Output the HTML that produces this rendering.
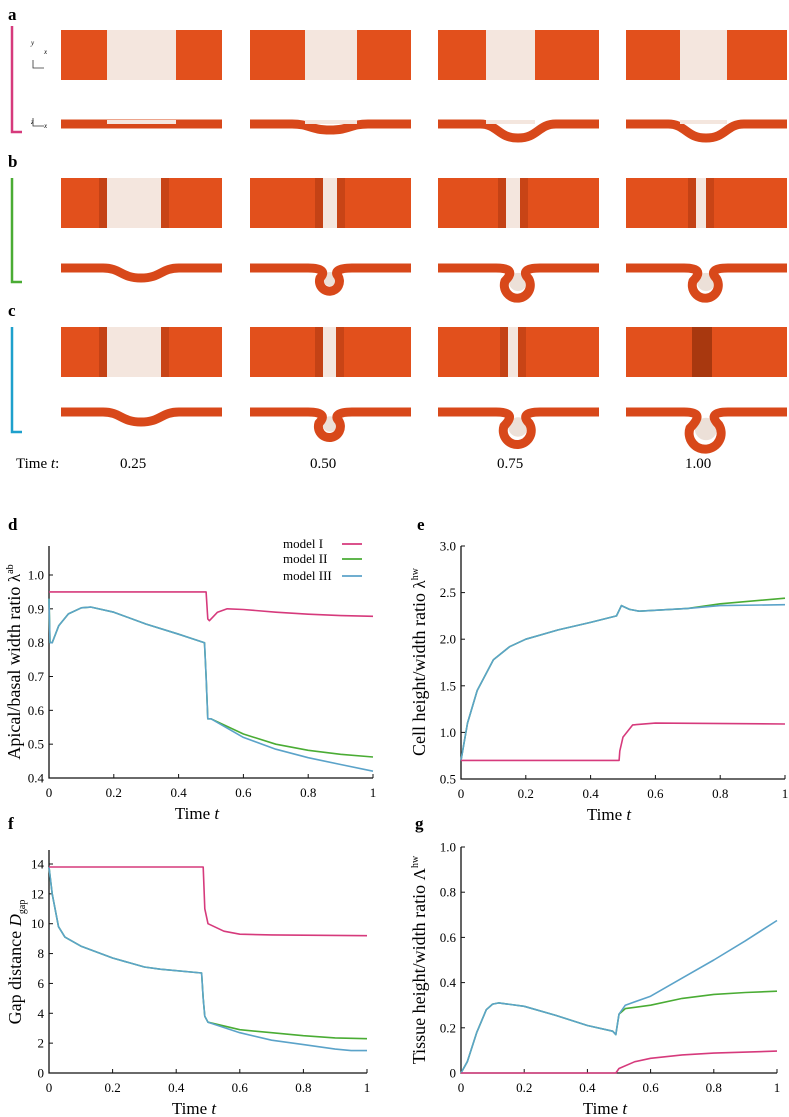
<!DOCTYPE html>
<html><head><meta charset="utf-8">
<style>
html,body{margin:0;padding:0;background:#fff;}
body{width:789px;height:1117px;position:relative;overflow:hidden;font-family:"Liberation Serif",serif;}
svg{position:absolute;left:0;top:0;}
</style></head>
<body>
<svg id="fig" width="789" height="1117" viewBox="0 0 789 1117" font-family="Liberation Serif, serif"></svg>
<script>
// ---- chart data ----
const dI_t=[0,0.485,0.49,0.495,0.52,0.55,0.6,0.7,0.8,0.9,1];
const dI_v=[0.95,0.95,0.87,0.865,0.89,0.9,0.898,0.89,0.884,0.88,0.878];
const dIII_t=[0,0.003,0.01,0.03,0.06,0.1,0.13,0.2,0.3,0.4,0.48,0.485,0.49,0.5,0.6,0.7,0.8,0.9,1];
const dIII_v=[0.93,0.80,0.80,0.85,0.885,0.903,0.905,0.89,0.855,0.825,0.80,0.70,0.575,0.575,0.52,0.485,0.46,0.44,0.42];
const dII_t=[0,0.003,0.01,0.03,0.06,0.1,0.13,0.2,0.3,0.4,0.48,0.485,0.49,0.5,0.6,0.7,0.8,0.9,1];
const dII_v=[0.93,0.80,0.80,0.85,0.885,0.903,0.905,0.89,0.855,0.825,0.80,0.70,0.575,0.575,0.53,0.50,0.482,0.47,0.462];
const eI_t=[0,0.488,0.49,0.5,0.53,0.6,1];
const eI_v=[0.7,0.7,0.8,0.95,1.08,1.1,1.09];
const eIII_t=[0,0.02,0.05,0.1,0.15,0.2,0.3,0.4,0.48,0.495,0.52,0.55,0.7,0.8,1];
const eIII_v=[0.7,1.1,1.45,1.78,1.92,2.0,2.1,2.18,2.25,2.36,2.32,2.3,2.33,2.36,2.37];
const eII_t=[0,0.02,0.05,0.1,0.15,0.2,0.3,0.4,0.48,0.495,0.52,0.55,0.7,0.8,1];
const eII_v=[0.7,1.1,1.45,1.78,1.92,2.0,2.1,2.18,2.25,2.36,2.32,2.3,2.33,2.38,2.44];
const fI_t=[0,0.485,0.49,0.5,0.55,0.6,0.7,1];
const fI_v=[13.8,13.8,11,10,9.5,9.3,9.25,9.2];
const fIII_t=[0,0.01,0.03,0.05,0.1,0.2,0.3,0.35,0.48,0.485,0.49,0.5,0.6,0.7,0.8,0.9,0.95,1];
const fIII_v=[13.8,12,9.8,9.1,8.5,7.7,7.1,6.95,6.7,5,3.8,3.4,2.7,2.2,1.9,1.6,1.5,1.5];
const fII_t=[0,0.01,0.03,0.05,0.1,0.2,0.3,0.35,0.48,0.485,0.49,0.5,0.6,0.7,0.8,0.9,1];
const fII_v=[13.8,12,9.8,9.1,8.5,7.7,7.1,6.95,6.7,5,3.8,3.4,2.9,2.7,2.5,2.35,2.3];
const gI_t=[0,0.49,0.5,0.55,0.6,0.7,0.8,1];
const gI_v=[0,0,0.02,0.05,0.065,0.08,0.088,0.097];
const gIII_t=[0,0.02,0.05,0.08,0.1,0.12,0.2,0.3,0.4,0.48,0.49,0.5,0.52,0.6,0.7,0.8,0.9,1];
const gIII_v=[0,0.05,0.18,0.28,0.305,0.31,0.295,0.255,0.21,0.185,0.17,0.26,0.30,0.34,0.42,0.5,0.585,0.675];
const gII_t=[0,0.02,0.05,0.08,0.1,0.12,0.2,0.3,0.4,0.48,0.49,0.5,0.52,0.6,0.7,0.8,0.9,1];
const gII_v=[0,0.05,0.18,0.28,0.305,0.31,0.295,0.255,0.21,0.185,0.17,0.26,0.285,0.3,0.33,0.348,0.356,0.362];
const xTicks=[0,0.2,0.4,0.6,0.8,1];
const xTickLabels=["0","0.2","0.4","0.6","0.8","1"];
const dTicks=[0.4,0.5,0.6,0.7,0.8,0.9,1.0];
const eTicks=[0.5,1.0,1.5,2.0,2.5,3.0];
const fTicks=[0,2,4,6,8,10,12,14];
const gTicks=[0,0.2,0.4,0.6,0.8,1.0];
const legendLabels=["model I","model II","model III"];

const NS="http://www.w3.org/2000/svg";
const svg=document.getElementById('fig');
const C={I:"#d63a7c",II:"#4aac34",III:"#5ba3c9"};
function mk(tag,attrs,parent){const e=document.createElementNS(NS,tag);for(const k in attrs)e.setAttribute(k,attrs[k]);(parent||svg).appendChild(e);return e;}
function txt(s,x,y,attrs,parent){const e=mk('text',Object.assign({x:x,y:y},attrs||{}),parent);e.textContent=s;return e;}

// ---- panel labels ----
[["a",8,20],["b",8,167],["c",8,316],["d",8,530],["e",417,530],["f",8,829],["g",415,829]].forEach(p=>{
  const t=txt(p[0],p[1],p[2],{"font-size":"17","font-weight":"bold"});
  
  
});

// ---- simulation tiles (illustrations) ----
const colX=[61,250,438,626];
const rowsTop=[30,178,327];
const rowsSide=[124,268,412];
const bands=[[[46,115],[55,107],[48,97],[54,101]],[[46,100],[73,87],[68,82],[70,80]],[[46,100],[73,86],[70,80],[76,76]]];
const depths=[[0,6,14,14],[10,20,26,26],[10,22,28,32]];
const bracketCol=["#d63a7c","#4aac34","#1ea0cc"];
const bracketY=[[26,132],[178,282],[327,432]];
for(let r=0;r<3;r++){
  const b=mk('path',{d:`M${12} ${bracketY[r][0]} V${bracketY[r][1]} H22`,stroke:bracketCol[r],"stroke-width":"2.5",fill:"none"});
  
  
  for(let c=0;c<4;c++){
    const g=mk('g',{});
    
    
    const x=colX[c],y=rowsTop[r];
    mk('rect',{x:x,y:y,width:161,height:50,fill:"#e2501c"},g);
    const bd=bands[r][c];
    if(bd[1]>bd[0]){
      mk('rect',{x:x+bd[0]-8,y:y,width:8,height:50,fill:"#b83c12",opacity:r?0.7:0},g);
      mk('rect',{x:x+bd[0],y:y,width:bd[1]-bd[0],height:50,fill:"#f4e6de"},g);
      mk('rect',{x:x+bd[1],y:y,width:8,height:50,fill:"#b83c12",opacity:r?0.6:0},g);
    } else {
      mk('rect',{x:x+bd[0]-10,y:y,width:20,height:50,fill:"#a8380f"},g);
    }
    const s=mk('g',{},svg);
    
    
    const ys=rowsSide[r],d=depths[r][c],mid=x+80;
    let path;
    if(d<=14){
      path=`M${x} ${ys} L${mid-38} ${ys} C${mid-20} ${ys},${mid-20} ${ys+d},${mid} ${ys+d} C${mid+20} ${ys+d},${mid+20} ${ys},${mid+38} ${ys} L${x+161} ${ys}`;
    } else {
      const rr=d*0.5;
      path=`M${x} ${ys} L${mid-22} ${ys} C${mid-8} ${ys},${mid-4} ${ys+4},${mid-rr} ${ys+d-rr} A${rr} ${rr} 0 1 0 ${mid+rr*0.8} ${ys+d-rr*1.2} C${mid+4} ${ys+4},${mid+8} ${ys},${mid+22} ${ys} L${x+161} ${ys}`;
      mk('circle',{cx:mid,cy:ys+d-rr+1,r:rr*0.7,fill:"#ece0d8"},s);
    }
    mk('path',{d:path,stroke:"#d8481a",fill:"none","stroke-width":"9","stroke-linejoin":"round"},s);
    if(r===0){mk('rect',{x:x+bd[0],y:ys-4,width:bd[1]-bd[0],height:4,fill:"#f4e6de"},s);}
  }
}
txt("y",31,45,{"font-size":"7","font-style":"italic"});
txt("x",44,54,{"font-size":"7","font-style":"italic"});
txt("z",31,124,{"font-size":"7","font-style":"italic"});
txt("x",44,128,{"font-size":"7","font-style":"italic"});
mk('path',{d:"M33 60 V68 H44 M33 118 V126 H44",stroke:"#333","stroke-width":"0.8",fill:"none"});

const tl=txt("Time ",16,468,{"font-size":"15"});


const ts=mk('tspan',{"font-style":"italic"},tl);ts.textContent="t";
const ts2=mk('tspan',{},tl);ts2.textContent=":";
["0.25","0.50","0.75","1.00"].forEach((s,i)=>{
  const t=txt(s,[120,310,497,685][i],468,{"font-size":"15"});
  
  
});

// ---- charts ----
function chart(o){
  const g=mk('g',{});
  
  
  const sx=v=>o.x0+(v)*(o.x1-o.x0);
  const sy=v=>o.yb+(v-o.vmin)/(o.vmax-o.vmin)*(o.yt-o.yb);
  const ax=mk('path',{d:`M${o.x0} ${o.axTop} V${o.yb} H${o.x1}`,stroke:"#111","stroke-width":"1.3",fill:"none"},g);
  
  
  xTicks.forEach((t,i)=>{
    mk('line',{x1:sx(t),x2:sx(t),y1:o.yb,y2:o.yb-4,stroke:"#111"},g);
    const l=txt(xTickLabels[i],sx(t),o.yb+19,{"font-size":"13","text-anchor":"middle"},g);
    
    
  });
  o.yt_.forEach(v=>{
    mk('line',{x1:o.x0,x2:o.x0+4,y1:sy(v),y2:sy(v),stroke:"#111"},g);
    const l=txt(o.fmt(v),o.x0-5,sy(v)+4.5,{"font-size":"13","text-anchor":"end"},g);
    
    
  });
  const xt=txt("Time ",(o.x0+o.x1)/2-14,o.yb+41,{"font-size":"17","text-anchor":"middle"},g);
  
  
  const it=mk('tspan',{"font-style":"italic"},xt);it.textContent="t";
  const yt=txt(o.ytitle,0,0,{"font-size":"18","text-anchor":"middle",transform:`translate(${o.ytx},${o.yty}) rotate(-90)`},g);
  
  
  const sup=mk('tspan',{"font-size":"17","font-style":o.supital?"italic":"normal"},yt);sup.textContent=o.sym;
  const sp=mk('tspan',{"font-size":"10",dy:o.supdy||"-7"},yt);sp.textContent=o.sup;
  o.series.forEach(s=>{
    const pts=s.t.map((t,i)=>sx(t).toFixed(1)+","+sy(s.v[i]).toFixed(1)).join(" ");
    const p=mk('polyline',{points:pts,fill:"none",stroke:C[s.k],"stroke-width":"1.6","stroke-linejoin":"round"},g);
    
    
  });
  return g;
}
const f1=v=>v.toFixed(1);
const gd=chart({name:"chart-d",x0:49,x1:373,yb:778,yt:575,vmin:0.4,vmax:1.0,axTop:546,yt_:dTicks,fmt:f1,
  ytitle:"Apical/basal width ratio ",sym:"λ",sup:"ab",ytx:20,yty:662,
  series:[{k:"II",t:dII_t,v:dII_v},{k:"III",t:dIII_t,v:dIII_v},{k:"I",t:dI_t,v:dI_v}]});
legendLabels.forEach((l,i)=>{
  const y=[548,563,580][i];
  const e=txt(l,283,y,{"font-size":"13"},gd);
  
  
  mk('line',{x1:342,x2:362,y1:y-4,y2:y-4,stroke:C[["I","II","III"][i]],"stroke-width":"1.8"},gd);
});
chart({name:"chart-e",x0:461,x1:785,yb:779,yt:546,vmin:0.5,vmax:3.0,axTop:546,yt_:eTicks,fmt:f1,
  ytitle:"Cell height/width ratio  ",sym:"λ",sup:"hw",ytx:425,yty:662,
  series:[{k:"II",t:eII_t,v:eII_v},{k:"III",t:eIII_t,v:eIII_v},{k:"I",t:eI_t,v:eI_v}]});
chart({name:"chart-f",x0:49,x1:367,yb:1073,yt:864,vmin:0,vmax:14,axTop:850,yt_:fTicks,fmt:v=>String(v),
  ytitle:"Gap distance  ",sym:"D",supital:true,sup:"gap",supdy:"4",ytx:21,yty:962,
  series:[{k:"II",t:fII_t,v:fII_v},{k:"III",t:fIII_t,v:fIII_v},{k:"I",t:fI_t,v:fI_v}]});
chart({name:"chart-g",x0:461,x1:777,yb:1073,yt:847,vmin:0,vmax:1.0,axTop:847,yt_:gTicks,fmt:v=>v===0?"0":v.toFixed(1),
  ytitle:"Tissue height/width ratio ",sym:"Λ",sup:"hw",ytx:425,yty:960,
  series:[{k:"II",t:gII_t,v:gII_v},{k:"III",t:gIII_t,v:gIII_v},{k:"I",t:gI_t,v:gI_v}]});
</script>
</body></html>
